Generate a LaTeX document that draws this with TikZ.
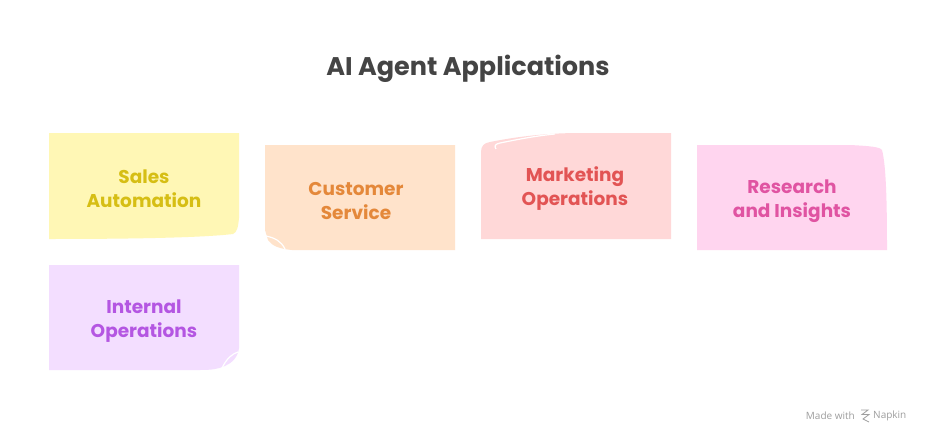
\documentclass[tikz,border=0pt]{standalone}
\usepackage{fontspec}
\setmainfont{Poppins}
\newfontfamily\footfont{Open Sans}
\definecolor{yfill}{HTML}{FFF7B5}\definecolor{ytext}{HTML}{D6BE14}
\definecolor{ofill}{HTML}{FFE3CB}\definecolor{otext}{HTML}{E4883A}
\definecolor{rfill}{HTML}{FFD8D8}\definecolor{rtext}{HTML}{E25454}
\definecolor{pfill}{HTML}{FFD5EF}\definecolor{ptext}{HTML}{E054A2}
\definecolor{vfill}{HTML}{F3DEFF}\definecolor{vtext}{HTML}{B456E2}
\definecolor{titlec}{HTML}{444444}
\tikzset{
  lbl/.style={font=\fontsize{18.5}{24}\selectfont\bfseries, align=center},
  curl/.style={draw=white, line width=1.2pt},
}
\begin{document}
\begin{tikzpicture}[x=1pt,y=-1pt]
\useasboundingbox (0,0) rectangle (936,444);
\fill[white] (0,0) rectangle (936,444);
\node[font=\fontsize{25.5}{30}\selectfont\bfseries, text=titlec] (title) at (468,69) {AI Agent Applications};
% Sales Automation
\fill[yfill] (49,133) -- (239,133) -- (239,218) .. controls (238,228) and (237,232) .. (233,234) .. controls (200,238) and (120,239) .. (49,239) -- cycle;
\node[lbl, text=ytext] (sales) at (144,189) {Sales\\Automation};
% Customer Service
\fill[ofill] (265,145) -- (455,145) -- (455,250) -- (292,250) .. controls (280,249) and (272,246) .. (268,240) -- (265,230) -- cycle;
\draw[curl] (266,236) .. controls (275,238) and (281,241) .. (285,249);
\node[lbl, text=otext] (cust) at (356,201) {Customer\\Service};
% Marketing Operations
\fill[rfill] (481,152) .. controls (481,146) and (484,143) .. (490,142) .. controls (520,136) and (550,133) .. (580,133) -- (671,133) -- (671,239) -- (481,239) -- cycle;
\draw[curl] (496,149) .. controls (494,146) and (495,144) .. (500,143) .. controls (520,139) and (535,136) .. (555,134);
\node[lbl, text=rtext] (mkt) at (575,189) {Marketing\\Operations};
% Research and Insights
\fill[pfill] (697,145) -- (850,145) .. controls (870,146) and (880,147) .. (882,150) .. controls (886,165) and (887,200) .. (887,250) -- (697,250) -- cycle;
\node[lbl, text=ptext] (res) at (792,201) {Research\\and Insights};
% Internal Operations
\fill[vfill] (49,265) -- (239,265) -- (239,348) .. controls (238,357) and (232,363) .. (225,366) .. controls (218,369) and (212,370) .. (200,370) -- (49,370) -- cycle;
\draw[curl] (238,352) .. controls (232,354) and (227,358) .. (222,368);
\node[lbl, text=vtext] (int) at (144,321) {Internal\\Operations};
% footer
\node[font=\footfont\fontsize{10}{12}\selectfont, text=black!38, anchor=east, inner sep=0pt] (made) at (855,416) {Made with};
\begin{scope}[draw=black!38, line width=0.8pt]
\draw (861,410) -- (868,410) -- (862,414.5) -- (869,414.5) -- (863,419) -- (869,422);
\end{scope}
\node[font=\footfont\fontsize{10}{12}\selectfont, text=black!38, anchor=west, inner sep=0pt] (napkin) at (873,416) {Napkin};
\end{tikzpicture}
\end{document}
